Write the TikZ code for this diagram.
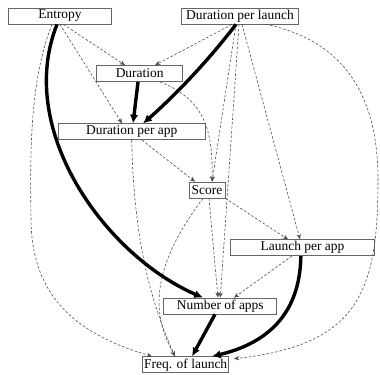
\documentclass[tikz,border=0pt]{standalone}
\usepackage{fontspec}
\setmainfont{Liberation Serif}
\usetikzlibrary{arrows.meta}

\begin{document}
\begin{tikzpicture}[x=0.3mm, y=-0.3mm,
  var/.style={draw=black!60, line width=0.6pt, fill=white, minimum height=4.8mm,
    inner sep=0.4mm, font=\fontsize{11.5}{13}\selectfont},
  weak/.style={draw=black!70, line width=0.5pt, dash pattern=on 2.2pt off 1.6pt,
    -{Stealth[length=1.6mm,width=1.3mm]}},
  strong/.style={line width=2.9pt, -{Latex[length=2.6mm,width=2.5mm]}}
]
\useasboundingbox (0,0) rectangle (380,374);

% Variables
\node[var, minimum width=30.9mm] (entropy) at (60,16) {Entropy};
\node[var, minimum width=35.1mm] (durlaunch) at (240,16) {Duration per launch};
\node[var, minimum width=25.8mm] (duration) at (139.7,73.5) {Duration};
\node[var, minimum width=44.1mm] (durapp) at (131.7,131.8) {Duration per app};
\node[var, minimum width=10.8mm] (score) at (207,190) {Score};
\node[var, minimum width=43.2mm] (launchapp) at (302.5,247.7) {Launch per app};
\node[var, minimum width=33.9mm] (numapps) at (220.3,306) {Number of apps};
\node[var, minimum width=24.9mm] (freq) at (185.7,364.7) {Freq. of launch};

% Weak links
\draw[weak] ([xshift=1mm]entropy.south) -- ([xshift=-4.4mm]duration.north);
\draw[weak] (entropy.south) -- ([xshift=-2.9mm]durapp.north);
\draw[weak] ([xshift=-2.4mm]entropy.south) .. controls (30,80) and (30,150) .. (31,220)
  .. controls (32,300) and (80,335) .. ([xshift=-10.1mm]freq.north);
\draw[weak] ([xshift=-2.4mm]durlaunch.south) -- ([xshift=4.6mm]duration.north);
\draw[weak] ([xshift=-1.2mm]durlaunch.south) -- ([xshift=1.5mm]score.north);
\draw[weak] ([xshift=-0.3mm]durlaunch.south) -- (numapps.north);
\draw[weak] ([xshift=0.6mm]durlaunch.south) -- ([xshift=-0.75mm]launchapp.north);
\draw[weak] ([xshift=7.8mm]durlaunch.south) .. controls (340,40) and (378,90) .. (378,180)
  .. controls (378,290) and (360,345) .. ([xshift=1.5mm,yshift=1.8mm]freq.east);
\draw[weak] ([xshift=6.1mm]duration.south) .. controls (205,100) and (213,130) .. ([xshift=1.5mm]score.north);
\draw[weak] ([xshift=3.1mm]durapp.south) -- ([xshift=-3.6mm]score.north);
\draw[weak] (durapp.south) .. controls (134,240) and (150,300) .. ([xshift=-3.2mm]freq.north);
\draw[weak] ([xshift=-1.2mm]score.south) .. controls (145,275) and (155,320) .. ([xshift=-3.2mm]freq.north);
\draw[weak] (score.south east) -- ([xshift=-4.35mm]launchapp.north);
\draw[weak] ([xshift=0.6mm]score.south) -- ([xshift=-0.7mm]numapps.north);
\draw[weak] ([xshift=-3.2mm]launchapp.south) -- ([xshift=4.1mm]numapps.north);

% Strong links
\draw[strong] ([xshift=-0.9mm]entropy.south) .. controls (15,130) and (105,255) .. ([xshift=-5.2mm]numapps.north);
\draw[strong] ([xshift=-1.2mm]durlaunch.south) .. controls (205,65) and (170,100) .. ([xshift=3.4mm]durapp.north);
\draw[strong] ([xshift=-0.5mm]duration.south) -- ([xshift=0.4mm]durapp.north);
\draw[strong] ([xshift=-0.5mm]launchapp.south) .. controls (300,320) and (260,345) .. ([xshift=7.9mm]freq.north);
\draw[strong] ([xshift=-1.6mm]numapps.south) -- ([xshift=1.9mm]freq.north);

\end{tikzpicture}
\end{document}
